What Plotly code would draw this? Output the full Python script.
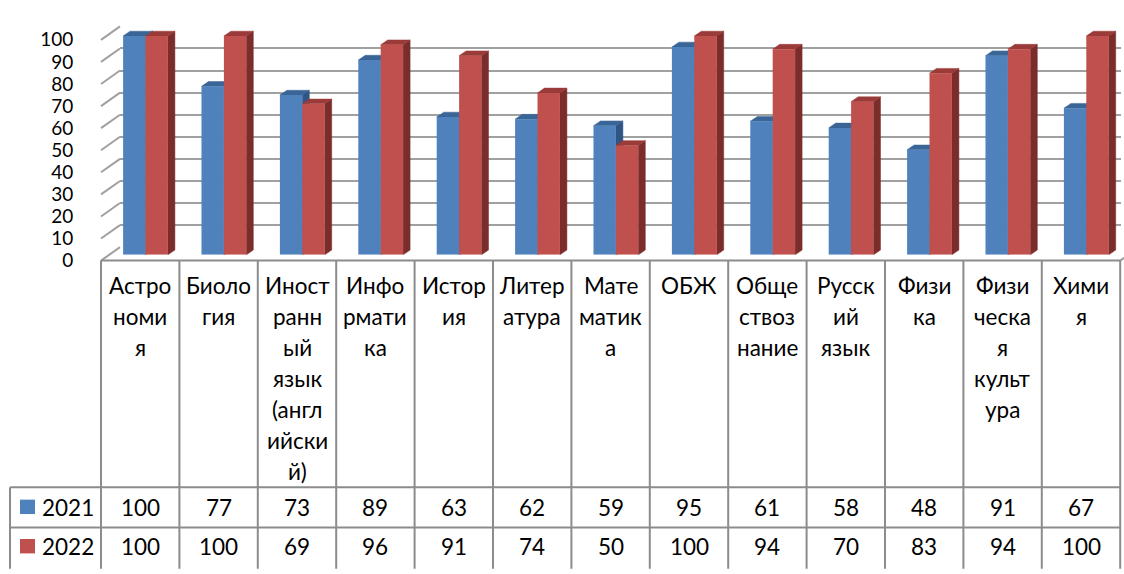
import numpy as np
import plotly.graph_objects as go

# ---------------- data ----------------
categories = ["Астрономия", "Биология", "Иностранный язык (английский)", "Информатика",
              "История", "Литература", "Математика", "ОБЖ", "Обществознание",
              "Русский язык", "Физика", "Физическая культура", "Химия"]
tick_labels = ["Астро\nноми\nя", "Биоло\nгия", "Иност\nранн\nый\nязык\n(англ\nийски\nй)",
               "Инфо\nрмати\nка", "Истор\nия", "Литер\nатура", "Мате\nматик\nа", "ОБЖ",
               "Обще\nствоз\nнание", "Русск\nий\nязык", "Физи\nка",
               "Физи\nческа\nя\nкульт\nура", "Хими\nя"]
series_names = ["2021", "2022"]
values_2021 = [100, 77, 73, 89, 63, 62, 59, 95, 61, 58, 48, 91, 67]
values_2022 = [100, 100, 69, 96, 91, 74, 50, 100, 94, 70, 83, 94, 100]
y_ticks = list(range(0, 101, 10))

# ---------------- geometry / style ----------------
W, H = 1124, 574
FONT = "Lato"
FS = 22.5
GRID = "#a0a0a0"
TABLE = "#8c8c8c"
BLUE, BLUE_TOP, BLUE_SIDE = "#4F81BD", "#3A6597", "#2E5584"
RED, RED_TOP, RED_SIDE = "#C0504D", "#9B3B39", "#7B2D2B"

def fx(p):
    return p / W

def fy(p):
    return 1 - p / H

COL0, COLW = 101, 78.4
NCOL = len(categories)
TABLE_R = COL0 + COLW * NCOL
BAR_SHIFT = 5.3
BAR_ZERO, BAR_K = 253, 2.28
BW = 22.4 / COLW
DX = 7 / COLW
DY = 5 / BAR_K

x_pos = np.arange(NCOL)

fig = go.Figure()

# back wall helper (grid subplot)
fig.add_trace(go.Scatter(x=[0.5], y=[50], mode="markers", marker=dict(opacity=0),
                         hoverinfo="skip", showlegend=False, xaxis="x", yaxis="y"))
# front axis helper
fig.add_trace(go.Scatter(x=[0.5], y=[50], mode="markers", marker=dict(opacity=0),
                         hoverinfo="skip", showlegend=False, xaxis="x3", yaxis="y3"))


def faces(vals, off):
    top_x, top_y, side_x, side_y = [], [], [], []
    for i, v in zip(x_pos, vals):
        xl = i + off
        xr = xl + BW
        top_x += [xl, xr, xr + DX, xl + DX, xl, None]
        top_y += [v, v, v + DY, v + DY, v, None]
        side_x += [xr, xr, xr + DX, xr + DX, xr, None]
        side_y += [0, v, v + DY, DY, 0, None]
    return top_x, top_y, side_x, side_y


for vals, off, c_front, c_top, c_side, name, z in [
    (values_2021, -BW, BLUE, BLUE_TOP, BLUE_SIDE, series_names[0], 1),
    (values_2022, 0.0, RED, RED_TOP, RED_SIDE, series_names[1], 3),
]:
    tx, ty, sx, sy = faces(vals, off)
    fig.add_trace(go.Scatter(x=sx, y=sy, fill="toself", fillcolor=c_side, mode="lines",
                             line=dict(width=0.5, color=c_side), hoverinfo="skip",
                             showlegend=False, xaxis="x2", yaxis="y2", zorder=z))
    fig.add_trace(go.Scatter(x=tx, y=ty, fill="toself", fillcolor=c_top, mode="lines",
                             line=dict(width=0.5, color=c_top), hoverinfo="skip",
                             showlegend=False, xaxis="x2", yaxis="y2", zorder=z))
    fig.add_trace(go.Bar(x=x_pos, y=vals, width=BW, offset=off, name=name,
                         marker=dict(color=c_front, line=dict(width=0)),
                         showlegend=False, xaxis="x2", yaxis="y2", zorder=z + 1))

shapes = []
# left wall diagonals
for t in y_ticks:
    shapes.append(dict(type="line", xref="paper", yref="paper",
                       x0=fx(COL0), y0=fy(259 - 2.3 * t), x1=fx(120), y1=fy(245 - 2.3 * t),
                       line=dict(color=GRID, width=2), layer="below"))
# floor right edge
shapes.append(dict(type="line", xref="paper", yref="paper",
                   x0=fx(TABLE_R), y0=fy(259), x1=fx(TABLE_R + 19), y1=fy(245),
                   line=dict(color=GRID, width=2), layer="below"))

# table lines
TOP, ROW1, ROW2, BOT = 259, 495, 537, 580
LEFT = 10
shapes.append(dict(type="line", xref="paper", yref="paper", x0=fx(COL0), x1=fx(TABLE_R),
                   y0=fy(TOP), y1=fy(TOP), line=dict(color=TABLE, width=2)))
for yy in (ROW1, ROW2):
    shapes.append(dict(type="line", xref="paper", yref="paper", x0=fx(LEFT), x1=fx(TABLE_R),
                       y0=fy(yy), y1=fy(yy), line=dict(color=TABLE, width=2)))
shapes.append(dict(type="line", xref="paper", yref="paper", x0=fx(LEFT), x1=fx(LEFT),
                   y0=fy(ROW1), y1=fy(BOT), line=dict(color=TABLE, width=2)))
for i in range(NCOL + 1):
    xx = COL0 + COLW * i
    shapes.append(dict(type="line", xref="paper", yref="paper", x0=fx(xx), x1=fx(xx),
                       y0=fy(TOP), y1=fy(BOT), line=dict(color=TABLE, width=2)))

# legend keys in table
for (y0, y1), col in [((508, 523), BLUE), ((549, 564), RED)]:
    shapes.append(dict(type="rect", xref="paper", yref="paper", x0=fx(20), x1=fx(35),
                       y0=fy(y1), y1=fy(y0), fillcolor=col, line=dict(width=0)))

annotations = []
font = dict(family=FONT, size=FS, color="black")
for i, lab in enumerate(tick_labels):
    cx = COL0 + COLW * i + COLW / 2
    for k, line in enumerate(lab.split("\n")):
        annotations.append(dict(text=line, xref="paper", yref="paper", x=fx(cx),
                                y=fy(285 + 32.2 * k), xanchor="center", yanchor="middle",
                                showarrow=False, font=font))
for vals, yy in [(values_2021, 516), (values_2022, 557)]:
    for i, v in enumerate(vals):
        cx = COL0 + COLW * i + COLW / 2
        annotations.append(dict(text=str(v), xref="paper", yref="paper", x=fx(cx),
                                y=fy(yy), xanchor="center", yanchor="middle",
                                showarrow=False, font=font))
for name, yy in zip(series_names, (516, 557)):
    annotations.append(dict(text=name, xref="paper", yref="paper", x=fx(40), y=fy(yy),
                            xanchor="left", yanchor="middle", showarrow=False, font=font))

fig.update_layout(
    width=W, height=H, autosize=False,
    margin=dict(l=0, r=0, t=0, b=0, pad=0),
    paper_bgcolor="white", plot_bgcolor="rgba(0,0,0,0)",
    barmode="overlay",
    showlegend=False,
    font=dict(family=FONT, size=FS, color="black"),
    xaxis=dict(domain=[fx(120), fx(1121)], range=[0, 1], visible=False, anchor="y"),
    yaxis=dict(domain=[fy(245), fy(15)], range=[0, 100], tickvals=y_ticks,
               showgrid=True, gridcolor=GRID, gridwidth=2, showticklabels=False,
               zeroline=False, showline=False, ticks="", anchor="x"),
    xaxis2=dict(domain=[fx(COL0 + BAR_SHIFT), 1],
                range=[-0.5, -0.5 + (W - COL0 - BAR_SHIFT) / COLW],
                visible=False, anchor="y2"),
    yaxis2=dict(domain=[fy(BAR_ZERO), 1], range=[0, BAR_ZERO / BAR_K],
                visible=False, anchor="x2"),
    xaxis3=dict(domain=[fx(COL0), fx(TABLE_R)], range=[0, 1], visible=False, anchor="y3"),
    yaxis3=dict(domain=[fy(259), fy(29)], range=[0, 100], tickvals=y_ticks,
                showgrid=False, zeroline=False, showline=True, linecolor=GRID, linewidth=2,
                ticks="", ticklabelstandoff=22,
                tickfont=dict(family=FONT, size=19, color="black"), anchor="x3"),
    shapes=shapes,
    annotations=annotations,
)

fig.write_html("out.html", config={"displayModeBar": False},
               post_script="document.body.style.margin='0';document.body.style.overflow='hidden';")
